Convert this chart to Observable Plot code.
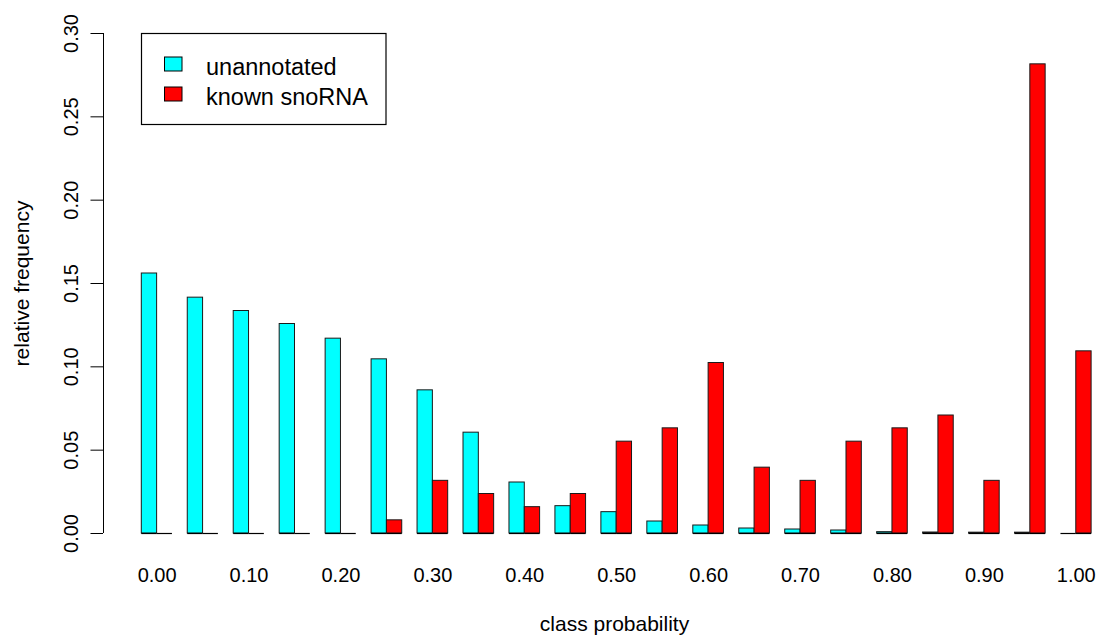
<!DOCTYPE html>
<html>
<head>
<meta charset="utf-8">
<script src="https://cdn.jsdelivr.net/npm/d3@7"></script>
<script src="https://cdn.jsdelivr.net/npm/@observablehq/plot@0.6"></script>
<style>
  html, body { margin: 0; padding: 0; background: #fff; }
  #chart { position: relative; width: 1098px; height: 635px; }
  svg { font-family: "Liberation Sans", Arial, Helvetica, sans-serif; }
</style>
</head>
<body>
<div id="chart"></div>
<script>
// ---- data ----
const groups = ["0.00","0.05","0.10","0.15","0.20","0.25","0.30","0.35","0.40","0.45","0.50",
                "0.55","0.60","0.65","0.70","0.75","0.80","0.85","0.90","0.95","1.00"];
const seriesNames = ["unannotated", "known snoRNA"];
const unannotated = [0.156, 0.1415, 0.1335, 0.1257, 0.1169, 0.1045, 0.0859, 0.0605, 0.0306, 0.0164, 0.0128,
                     0.0072, 0.0048, 0.0030, 0.0024, 0.0018, 0.0008, 0.0006, 0.0005, 0.0005, 0.0];
const knownSnoRNA = [0, 0, 0, 0, 0, 0.0079, 0.0316, 0.0237, 0.0158, 0.0237, 0.0551,
                     0.0631, 0.1023, 0.0395, 0.0316, 0.0551, 0.0631, 0.0708, 0.0316, 0.2815, 0.1093];
const xTickLabels = ["0.00","0.10","0.20","0.30","0.40","0.50","0.60","0.70","0.80","0.90","1.00"];
const yTicks = [0, 0.05, 0.10, 0.15, 0.20, 0.25, 0.30];
const colors = ["#00FFFF", "#FF0000"];

// ---- table (R barplot beside=TRUE layout: 1 unit gap, then 2 bars of width 1) ----
const rows = [];
groups.forEach((g, i) => {
  rows.push({group: g, gi: i, series: seriesNames[0], si: 0, value: unannotated[i]});
  rows.push({group: g, gi: i, series: seriesNames[1], si: 1, value: knownSnoRNA[i]});
});
const slotStart = d => d.gi * 3 + 1 + d.si;
const slotEnd = d => slotStart(d) + 1;
const labelRows = xTickLabels.map(l => ({label: l, gi: groups.indexOf(l)}));
const groupCenter = d => d.gi * 3 + 2;

const xDomain = [-1.5, 63.45];
const fmt = d3.format(".2f");

const plot = Plot.plot({
  width: 1098,
  height: 635,
  marginLeft: 103,
  marginRight: 0,
  marginTop: 33,
  marginBottom: 102,
  x: {type: "linear", domain: xDomain, axis: null},
  y: {domain: [0, 0.30], axis: null},
  color: {domain: seriesNames, range: colors},
  style: {fontFamily: "Liberation Sans, Arial, sans-serif", color: "#000", background: "#fff"},
  marks: [
    // y axis line and ticks
    Plot.ruleX([xDomain[0]], {y1: 0, y2: 0.30, stroke: "#000", strokeWidth: 1}),
    Plot.axisY({ticks: yTicks, tickSize: 12.5, tickFormat: () => "", label: null, stroke: "#000"}),
    Plot.text(yTicks, {y: d => d, text: d => fmt(d), frameAnchor: "left", dx: -31.5, rotate: -90,
                       textAnchor: "middle", lineAnchor: "middle", fontSize: 20, fill: "#000"}),
    // bars
    Plot.rect(rows, {x1: slotStart, x2: slotEnd, y1: 0, y2: "value", fill: "series",
                     stroke: "#1a1a1a", strokeWidth: 1}),
    Plot.ruleY(rows, {x1: slotStart, x2: slotEnd, y: 0, stroke: "#000", strokeWidth: 1.2}),
    // x labels
    Plot.text(labelRows, {x: groupCenter, text: "label", frameAnchor: "bottom", dy: 42.3,
                          textAnchor: "middle", lineAnchor: "middle", fontSize: 20, fill: "#000"}),
    // axis titles
    Plot.text(["class probability"], {frameAnchor: "bottom", dy: 90.3, dx: 13.5,
                                      textAnchor: "middle", lineAnchor: "middle", fontSize: 21, fill: "#000"}),
    Plot.text(["relative frequency"], {frameAnchor: "left", dx: -81.7, rotate: -90,
                                       textAnchor: "middle", lineAnchor: "middle", fontSize: 21, fill: "#000"})
  ]
});

document.getElementById("chart").appendChild(plot);

// ---- legend (R-style boxed legend, top-left) ----
const svg = d3.select(plot);
const lg = svg.append("g").attr("class", "legend").attr("text-anchor", "start");
lg.append("rect").attr("x", 141.5).attr("y", 33.5).attr("width", 244.5).attr("height", 91)
  .attr("fill", "#fff").attr("stroke", "#000").attr("stroke-width", 1.2);
const legendRows = seriesNames.map((name, i) => ({name, color: colors[i], i}));
lg.selectAll("rect.sw").data(legendRows).join("rect").attr("class", "sw")
  .attr("x", 164.5).attr("y", d => 57 + d.i * 30).attr("width", 17.5).attr("height", 14)
  .attr("fill", d => d.color).attr("stroke", "#000").attr("stroke-width", 1);
lg.selectAll("text").data(legendRows).join("text")
  .attr("x", 206).attr("y", d => 75 + d.i * 30)
  .attr("font-size", 23.5).attr("fill", "#000").attr("text-anchor", "start")
  .attr("font-family", "Liberation Sans, Arial, sans-serif")
  .text(d => d.name);
</script>
</body>
</html>
